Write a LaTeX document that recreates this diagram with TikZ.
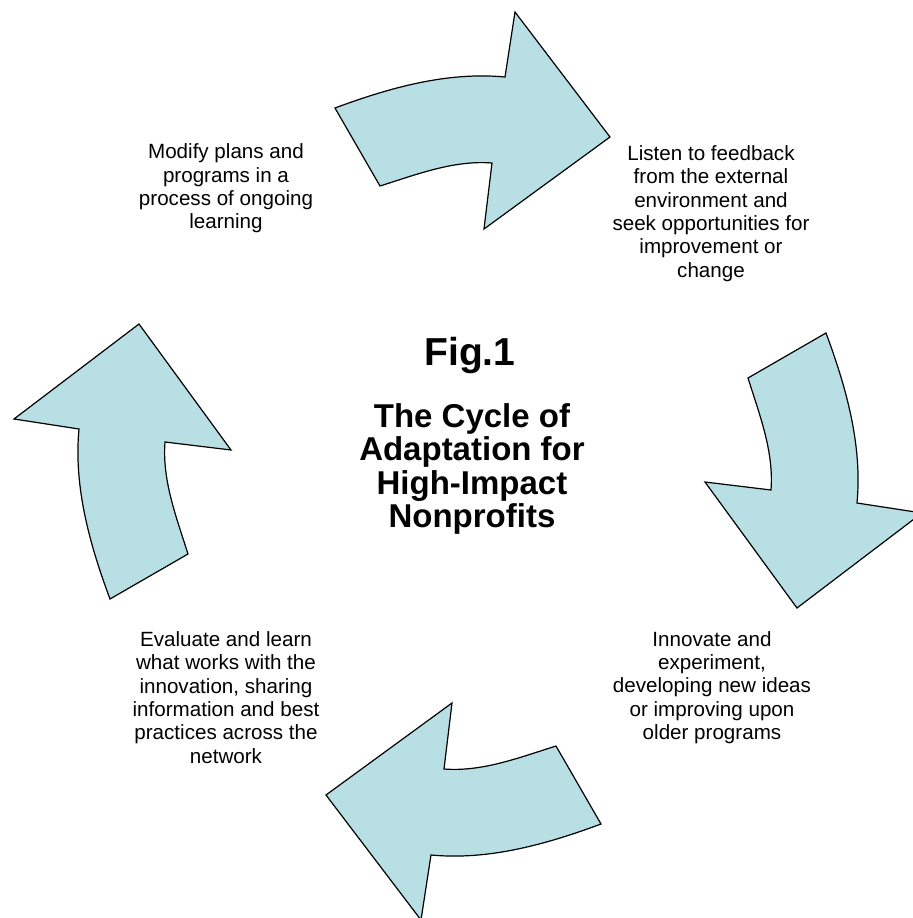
\documentclass[tikz,border=0pt]{standalone}
\usepackage{fontspec}
\setmainfont{Liberation Sans}
\definecolor{arrowfill}{RGB}{184,224,228}
\tikzset{
	cyclearrow/.style={fill=arrowfill, draw=black, line width=0.6pt, line join=miter},
	steptext/.style={align=center, inner sep=0pt, font=\fontsize{10.3}{11.7}\selectfont},
	figtext/.style={inner sep=0pt, font=\bfseries\fontsize{19.5}{19.5}\selectfont},
	titletext/.style={align=center, inner sep=0pt, font=\bfseries\fontsize{16.5}{16.6}\selectfont}
}
\begin{document}
\begin{tikzpicture}[x=0.5pt, y=0.5pt]
	\useasboundingbox (-468,-452) rectangle (445,466);
	\clip (-468,-452) rectangle (445,466);
	\fill[white] (-468,-452) rectangle (445,466); % weisser Hintergrund
	
	% vier gebogene Pfeile, je um 90 Grad gedreht
	\foreach \ang in {0,-90,-180,-270}{
		\draw[cyclearrow, rotate=\ang] (-133,358) .. controls (-78.7,378.2) and (-20.7,394.5) .. (37,389)
			-- (47,454) -- (142,329) -- (16,237) -- (24,303)
			.. controls (-14.3,306) and (-51.4,291.5) .. (-88,280) -- cycle;
	}
	
	\node[steptext] (modify) at (-242,277.5) {Modify plans and\\programs in a\\process of ongoing\\learning};
	\node[steptext] (listen) at (243,252.5) {Listen to feedback\\from the external\\environment and\\seek opportunities for\\improvement or\\change};
	\node[steptext] (innovate) at (244,-221.5) {Innovate and\\experiment,\\developing new ideas\\or improving upon\\older programs};
	\node[steptext] (evaluate) at (-242,-231.5) {Evaluate and learn\\what works with the\\innovation, sharing\\information and best\\practices across the\\network};
	
	\node[figtext] (fig) at (2,111) {Fig.1};
	\node[titletext] (title) at (4,-3) {The Cycle of\\Adaptation for\\High-Impact\\Nonprofits};
	
	%\draw[help lines] (-468,-452) grid[step=50] (445,466);
\end{tikzpicture}
\end{document}
